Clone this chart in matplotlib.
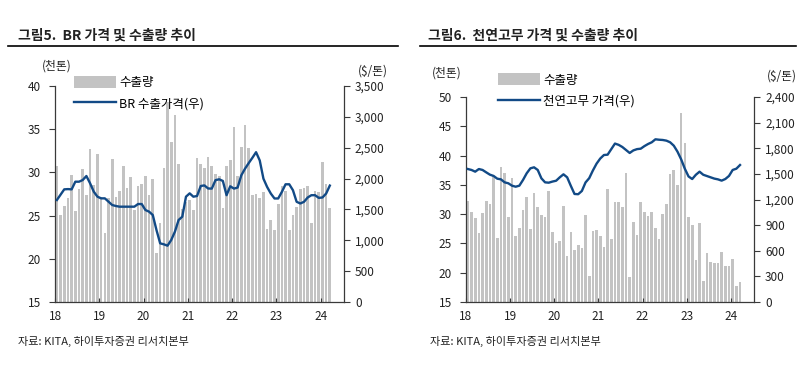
import numpy as np
import matplotlib.pyplot as plt
from matplotlib.patches import Patch
from matplotlib.lines import Line2D

plt.rcParams['font.family'] = ['Noto Sans CJK KR', 'DejaVu Sans']

# 월별 데이터 (2018.01 ~ 2024.03)
br_export = [30.8, 25.1, 26.1, 27.0, 29.7, 25.5, 28.1, 30.4, 27.4, 32.7, 28.5, 32.1,
             27.2, 23.0, 27.0, 31.6, 27.2, 27.9, 30.8, 28.2, 29.5, 25.6, 28.4, 28.7,
             29.6, 27.4, 29.2, 20.7, 24.1, 30.5, 38.1, 33.5, 36.7, 31.0, 25.8, 26.6,
             26.8, 25.6, 31.7, 31.0, 30.5, 31.8, 30.8, 29.8, 29.6, 25.9, 30.8, 31.4,
             35.3, 29.6, 33.0, 35.5, 32.8, 27.4, 27.5, 27.0, 27.7, 23.5, 24.5, 23.3,
             26.3, 28.4, 27.9, 23.3, 25.1, 26.0, 28.1, 28.2, 28.4, 24.1, 27.8, 27.7,
             31.2, 28.7, 25.9]
br_price = [1653, 1740, 1826, 1830, 1826, 1950, 1950, 1977, 2042, 1924, 1788, 1707,
            1680, 1680, 1626, 1572, 1556, 1545, 1545, 1545, 1545, 1545, 1588, 1588,
            1491, 1464, 1410, 1167, 951, 935, 913, 1005, 1140, 1329, 1383, 1707,
            1761, 1707, 1718, 1880, 1890, 1840, 1838, 1975, 1989, 1962, 1731, 1876,
            1838, 1855, 2053, 2160, 2251, 2337, 2428, 2294, 1999, 1865, 1758, 1678,
            1678, 1785, 1908, 1908, 1812, 1624, 1597, 1624, 1694, 1731, 1731, 1688,
            1694, 1758, 1887]

nr_export = [32.3, 30.4, 29.4, 26.7, 30.2, 32.3, 31.8, 36.5, 25.9, 38.1, 37.1, 29.6,
             36.2, 26.3, 27.7, 30.7, 32.9, 27.4, 33.6, 31.2, 29.9, 29.6, 33.9, 27.0,
             25.1, 25.4, 31.4, 22.9, 27.0, 23.8, 24.8, 24.2, 29.9, 19.5, 27.1, 27.3,
             26.3, 24.4, 34.3, 25.7, 32.1, 32.0, 31.3, 37.1, 19.2, 28.7, 26.4, 32.0,
             30.4, 29.7, 30.4, 27.6, 25.8, 30.1, 31.8, 36.9, 37.5, 35.0, 47.3, 42.2,
             29.5, 28.2, 22.2, 28.5, 18.6, 23.4, 21.8, 21.6, 21.6, 23.6, 21.1, 21.1,
             22.3, 17.8, 18.4]
nr_price = [1557, 1546, 1526, 1557, 1546, 1518, 1491, 1476, 1444, 1436, 1401, 1390,
            1362, 1350, 1362, 1429, 1507, 1565, 1577, 1546, 1448, 1401, 1397, 1410,
            1420, 1460, 1495, 1460, 1360, 1265, 1262, 1300, 1400, 1450, 1540, 1620,
            1680, 1721, 1725, 1790, 1855, 1840, 1815, 1780, 1745, 1775, 1790, 1795,
            1825, 1850, 1870, 1905, 1900, 1897, 1889, 1870, 1830, 1760, 1670, 1560,
            1470, 1440, 1490, 1526, 1490, 1475, 1460, 1445, 1436, 1421, 1440, 1476,
            1546, 1561, 1604]

year_labels = ['18', '19', '20', '21', '22', '23', '24']

bar_color = '#c3c3c3'
line_color = '#124a86'
spine_color = '#3a3a3a'
text_color = '#222222'

fig = plt.figure(figsize=(8, 3.73), dpi=100)


def draw_panel(rect, export, price, ylim_l, yticks_l, ylim_r, yticks_r, line_label, leg_anchor):
    ax = fig.add_axes(rect)
    x = np.arange(len(export)) + 0.5
    ax.bar(x, export, width=0.72, color=bar_color, zorder=1)
    ax.set_xlim(0, 78.3)
    ax.set_ylim(*ylim_l)
    ax.set_yticks(yticks_l)
    ax.set_xticks(np.arange(len(year_labels)) * 12)
    ax.set_xticklabels(year_labels)

    ax2 = ax.twinx()
    ax2.plot(x, price, color=line_color, lw=1.7, zorder=3)
    ax2.set_ylim(*ylim_r)
    ax2.set_yticks(yticks_r)
    ax2.set_yticklabels([f'{v:,}' for v in yticks_r])

    for a in (ax, ax2):
        a.spines['top'].set_visible(False)
        for s in a.spines.values():
            s.set_color(spine_color)
            s.set_linewidth(0.9)
        a.tick_params(axis='y', direction='out', length=4, width=0.8,
                      colors=spine_color, labelcolor=text_color, labelsize=8.5)
    ax.tick_params(axis='x', direction='in', length=3, width=0.8,
                   colors=spine_color, labelcolor=text_color, labelsize=8.5, pad=6)
    ax.tick_params(axis='y', pad=6)
    ax2.tick_params(axis='y', pad=4)
    ax.spines['right'].set_visible(False)
    ax2.spines['left'].set_visible(False)
    ax2.spines['bottom'].set_visible(False)

    handles = [Patch(facecolor=bar_color, edgecolor='none'),
               Line2D([0], [0], color=line_color, lw=1.7)]
    ax.legend(handles, ['수출량', line_label], loc='upper left',
              bbox_to_anchor=leg_anchor, frameon=False, fontsize=9,
              handlelength=3.3, handleheight=1.1, handletextpad=0.3,
              labelspacing=0.65, borderaxespad=0)
    return ax, ax2


draw_panel([0.0688, 0.1903, 0.361, 0.579], br_export, br_price,
           (15, 40), [15, 20, 25, 30, 35, 40],
           (0, 3500), [0, 500, 1000, 1500, 2000, 2500, 3000, 3500], 'BR 수출가격(우)',
           (0.05, 1.07))
draw_panel([0.5825, 0.1903, 0.36, 0.5496], nr_export, nr_price,
           (15, 50), [15, 20, 25, 30, 35, 40, 45, 50],
           (0, 2400), [0, 300, 600, 900, 1200, 1500, 1800, 2100, 2400], '천연고무 가격(우)',
           (0.095, 1.14))

# 제목, 단위, 출처
fig.text(18 / 800, 1 - 36 / 373, '그림5.  BR 가격 및 수출량 추이', fontsize=10,
         fontweight='bold', color=text_color, va='center')
fig.text(428 / 800, 1 - 36 / 373, '그림6.  천연고무 가격 및 수출량 추이', fontsize=10,
         fontweight='bold', color=text_color, va='center')
fig.add_artist(Line2D([8 / 800, 398 / 800], [1 - 46 / 373] * 2, color='black', lw=1.2))
fig.add_artist(Line2D([420 / 800, 796 / 800], [1 - 46 / 373] * 2, color='black', lw=1.2))

fig.text(57 / 800, 1 - 66 / 373, '(천톤)', fontsize=8.5, color=text_color, va='center', ha='center')
fig.text(373 / 800, 1 - 71 / 373, '($/톤)', fontsize=8.5, color=text_color, va='center', ha='center')
fig.text(447 / 800, 1 - 73 / 373, '(천톤)', fontsize=8.5, color=text_color, va='center', ha='center')
fig.text(782 / 800, 1 - 76 / 373, '($/톤)', fontsize=8.5, color=text_color, va='center', ha='center')

fig.text(18 / 800, 1 - 341 / 373, '자료: KITA, 하이투자증권 리서치본부', fontsize=8,
         color=text_color, va='center')
fig.text(430 / 800, 1 - 341 / 373, '자료: KITA, 하이투자증권 리서치본부', fontsize=8,
         color=text_color, va='center')

fig.savefig('out.png', dpi=100)
